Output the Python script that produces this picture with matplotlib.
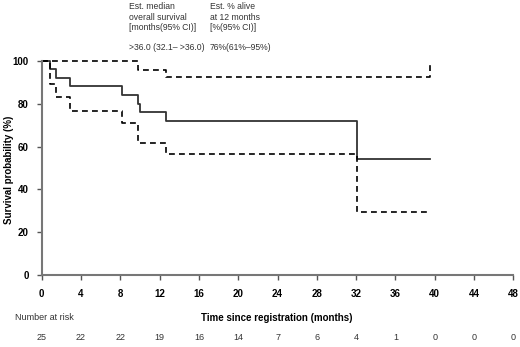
import matplotlib
matplotlib.use("Agg")
import matplotlib.pyplot as plt

plt.rcParams["font.family"] = ["Liberation Sans", "DejaVu Sans"]

# --- Kaplan-Meier estimate ---
surv_t = [0, 0.85, 1.45, 2.9, 8.2, 9.8, 10.0, 12.7, 32.1, 39.5]
surv_v = [100, 96, 92, 88, 84, 80, 76, 72, 54, 54]

# 95% confidence band
lower_t = [0, 0.85, 1.45, 2.9, 8.2, 9.8, 12.7, 32.1, 39.5]
lower_v = [100, 89, 83, 76.5, 71, 61.5, 56.5, 29.5, 29.5]
upper_t = [0, 9.8, 12.7, 39.5]
upper_v = [100, 95.5, 92.5, 100]

# number at risk, one per x tick
risk_t = [0, 4, 8, 12, 16, 20, 24, 28, 32, 36, 40, 44, 48]
at_risk = [25, 22, 22, 19, 16, 14, 7, 6, 4, 1, 0, 0, 0]

ann_col1 = ["Est. median", "overall survival", "[months(95% CI)]"]
ann_col2 = ["Est. % alive", "at 12 months", "[%(95% CI)]"]
ann_val1 = ">36.0 (32.1\u2013 >36.0)"
ann_val2 = "76%(61%\u201395%)"

fig = plt.figure(figsize=(5.2, 3.47), dpi=100)
ax = fig.add_axes([0.0802, 0.2066, 0.907, 0.6184])

ax.step(surv_t, surv_v, where="post", color="#333333", lw=1.3, clip_on=False)
ax.step(lower_t, lower_v, where="post", color="black", lw=1.2,
        dashes=(3.5, 2.5), clip_on=False)
ax.step(upper_t, upper_v, where="post", color="black", lw=1.2,
        dashes=(3.5, 2.5), clip_on=False)

ax.set_xlim(0, 48)
ax.set_ylim(0, 100)
ax.set_xticks(risk_t)
ax.set_yticks([0, 20, 40, 60, 80, 100])
for s in ["top", "right"]:
    ax.spines[s].set_visible(False)
for s in ["left", "bottom"]:
    ax.spines[s].set_color("#777777")
    ax.spines[s].set_linewidth(1.5)
ax.tick_params(direction="out", length=3.5, width=1, color="#555555",
               labelsize=7, pad=6)
for lab in ax.get_xticklabels() + ax.get_yticklabels():
    lab.set_fontweight("bold")

fig.text(9 / 520, 1 - 170 / 347, "Survival probability (%)", fontsize=7,
         fontweight="bold", rotation=90, ha="center", va="center")

# annotations above plot
for i, line in enumerate(ann_col1):
    fig.text(129 / 520, 1 - (6.5 + 10.5 * i) / 347, line, fontsize=6.2,
             color="#333333", va="center")
for i, line in enumerate(ann_col2):
    fig.text(210 / 520, 1 - (6.5 + 10.5 * i) / 347, line, fontsize=6.2,
             color="#333333", va="center")
fig.text(129 / 520, 1 - 47 / 347, ann_val1, fontsize=6.2, color="#333333",
         va="center")
fig.text(210 / 520, 1 - 47 / 347, ann_val2, fontsize=6.2, color="#333333",
         va="center")

# bottom rows
fig.text(277 / 520, 1 - 318 / 347, "Time since registration (months)",
         fontsize=7, fontweight="bold", ha="center", va="center")
fig.text(15 / 520, 1 - 318 / 347, "Number at risk", fontsize=6.5,
         color="#333333", va="center")
for t, n in zip(risk_t, at_risk):
    x_fig = fig.transFigure.inverted().transform(ax.transData.transform((t, 0)))[0]
    fig.text(x_fig, 1 - 337 / 347, str(n), fontsize=6.5, color="#333333",
             ha="center", va="center")

fig.savefig("out.png", dpi=100)
